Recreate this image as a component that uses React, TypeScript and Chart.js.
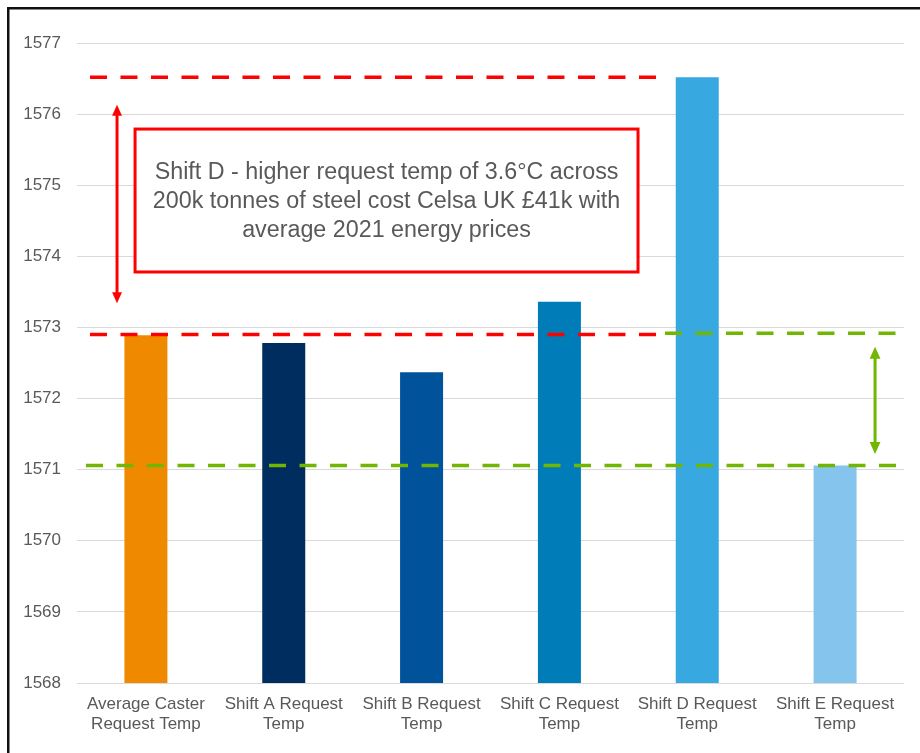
import React, { useEffect, useRef } from "react";
import { Chart, registerables } from "chart.js";

Chart.register(...registerables);

const categories: string[][] = [
  ["Average Caster", "Request Temp"],
  ["Shift A Request", "Temp"],
  ["Shift B Request", "Temp"],
  ["Shift C Request", "Temp"],
  ["Shift D Request", "Temp"],
  ["Shift E Request", "Temp"],
];
const requestTemps: number[] = [1572.89, 1572.78, 1572.37, 1573.36, 1576.52, 1571.06];
const barColors: string[] = ["#EF8A00", "#002D5F", "#00529B", "#007DB8", "#38A8E0", "#85C4ED"];

const yMin = 1568;
const yMax = 1577;

// reference levels (°C)
const redLevels: number[] = [1576.52, 1572.9];
const greenLevels: number[] = [1572.92, 1571.06];
const redArrowRange: number[] = [1576.13, 1573.34];
const greenArrowRange: number[] = [1572.73, 1571.22];
const boxRange: number[] = [1575.79, 1573.78];
const noteLines: string[] = [
  "Shift D - higher request temp of 3.6°C across",
  "200k tonnes of steel cost Celsa UK £41k with",
  "average 2021 energy prices",
];

const FONT = "'Liberation Sans', Arial, sans-serif";
const RED = "#FF0000";
const GREEN = "#70B602";

function arrow(ctx: CanvasRenderingContext2D, x: number, y1: number, y2: number, color: string, lw: number, head: number) {
  ctx.save();
  ctx.strokeStyle = color;
  ctx.fillStyle = color;
  ctx.lineWidth = lw;
  ctx.setLineDash([]);
  ctx.beginPath();
  ctx.moveTo(x, y1 + head * 0.8);
  ctx.lineTo(x, y2 - head * 0.8);
  ctx.stroke();
  ctx.beginPath();
  ctx.moveTo(x, y1);
  ctx.lineTo(x - head * 0.45, y1 + head);
  ctx.lineTo(x + head * 0.45, y1 + head);
  ctx.closePath();
  ctx.fill();
  ctx.beginPath();
  ctx.moveTo(x, y2);
  ctx.lineTo(x - head * 0.45, y2 - head);
  ctx.lineTo(x + head * 0.45, y2 - head);
  ctx.closePath();
  ctx.fill();
  ctx.restore();
}

const annotationPlugin = {
  id: "annotations",
  beforeDraw(chart: any) {
    const ctx = chart.ctx as CanvasRenderingContext2D;
    ctx.save();
    ctx.fillStyle = "#ffffff";
    ctx.fillRect(0, 0, chart.width, chart.height);
    ctx.fillStyle = "#111111";
    ctx.fillRect(7, 7, chart.width - 7, 2.5);
    ctx.fillRect(7, 7, 2.5, chart.height - 7);
    ctx.restore();
  },
  afterDatasetsDraw(chart: any) {
    const ctx = chart.ctx as CanvasRenderingContext2D;
    const y = chart.scales.y;
    const a = chart.chartArea;
    const w = a.right - a.left;
    const px = (f: number) => a.left + f * w;

    ctx.save();
    ctx.lineWidth = 3.5;
    ctx.lineCap = "butt";
    ctx.setLineDash([17, 13.5]);

    const dashed = (x1: number, x2: number, v: number, color: string) => {
      ctx.strokeStyle = color;
      ctx.beginPath();
      ctx.moveTo(x1, y.getPixelForValue(v));
      ctx.lineTo(x2, y.getPixelForValue(v));
      ctx.stroke();
    };
    dashed(px(0.0157), px(0.7025), redLevels[0], RED);
    dashed(px(0.0157), px(0.7025), redLevels[1], RED);
    dashed(px(0.711), px(0.9915), greenLevels[0], GREEN);
    dashed(px(0.0109), px(0.9915), greenLevels[1], GREEN);
    ctx.restore();

    arrow(ctx, px(0.0484), y.getPixelForValue(redArrowRange[0]), y.getPixelForValue(redArrowRange[1]), RED, 3, 11);
    arrow(ctx, px(0.965), y.getPixelForValue(greenArrowRange[0]), y.getPixelForValue(greenArrowRange[1]), GREEN, 3, 12);

    // note box
    const bx1 = px(0.0702);
    const bx2 = px(0.6784);
    const by1 = y.getPixelForValue(boxRange[0]);
    const by2 = y.getPixelForValue(boxRange[1]);
    ctx.save();
    ctx.fillStyle = "#ffffff";
    ctx.fillRect(bx1, by1, bx2 - bx1, by2 - by1);
    ctx.strokeStyle = RED;
    ctx.lineWidth = 3;
    ctx.setLineDash([]);
    ctx.strokeRect(bx1, by1, bx2 - bx1, by2 - by1);
    ctx.fillStyle = "#595959";
    ctx.font = `23.3px ${FONT}`;
    ctx.textAlign = "center";
    ctx.textBaseline = "alphabetic";
    const cx = (bx1 + bx2) / 2;
    const mid = (by1 + by2) / 2;
    const lh = 28.8;
    noteLines.forEach((t, i) => {
      ctx.fillText(t, cx, mid + 7.5 + (i - 1) * lh);
    });
    ctx.restore();
  },
};

export default function App() {
  const ref = useRef<HTMLCanvasElement | null>(null);
  useEffect(() => {
    if (!ref.current) return;
    const chart = new Chart(ref.current, {
      type: "bar",
      data: {
        labels: categories,
        datasets: [
          {
            data: requestTemps,
            backgroundColor: barColors,
            borderWidth: 0,
            barPercentage: 0.312,
            categoryPercentage: 1,
          },
        ],
      },
      options: {
        responsive: false,
        animation: false,
        events: [],
        layout: { padding: { left: 0, top: 43, right: 16, bottom: 0 } },
        plugins: {
          legend: { display: false },
          tooltip: { enabled: false },
          title: { display: false },
        },
        scales: {
          x: {
            grid: { display: false, drawTicks: false },
            border: { display: false },
            ticks: {
              color: "#595959",
              font: { family: FONT, size: 17, lineHeight: 1.18 },
              padding: 11,
              maxRotation: 0,
              autoSkip: false,
            },
            afterFit: (s: any) => {
              s.height = 70;
            },
          },
          y: {
            min: yMin,
            max: yMax,
            grid: { color: "#D9D9D9", lineWidth: 1, drawTicks: false },
            border: { display: false },
            ticks: {
              stepSize: 1,
              color: "#595959",
              font: { family: FONT, size: 17 },
              padding: 16,
              callback: (v: any) => String(v),
            },
            afterFit: (s: any) => {
              s.width = 77;
            },
          },
        },
      },
      plugins: [annotationPlugin],
    });
    return () => chart.destroy();
  }, []);
  return (
    <div style={{ position: "absolute", left: 0, top: 0, width: 920, height: 753, background: "#fff" }}>
      <canvas ref={ref} width={920} height={753} style={{ display: "block" }} />
    </div>
  );
}
